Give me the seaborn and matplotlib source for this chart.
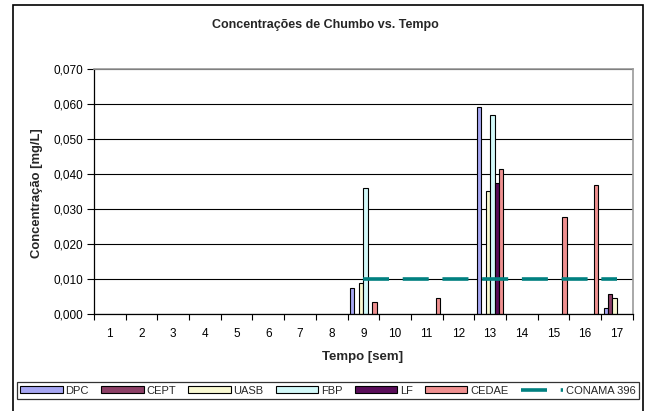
import numpy as np
import pandas as pd
import matplotlib
matplotlib.use("Agg")
import matplotlib.pyplot as plt
import matplotlib.patches as mpatches
from matplotlib.ticker import FuncFormatter, MultipleLocator
import seaborn as sns

# semanas e series
weeks = [str(i) for i in range(1, 18)]
series = ["DPC", "CEPT", "UASB", "FBP", "LF", "CEDAE"]
colors = ["#9999FF", "#993366", "#FFFFCC", "#CCFFFF", "#660066", "#FF8080"]

nan = np.nan
dpc   = [nan] * 8 + [0.0073, nan, nan, nan, 0.0592, nan, nan, nan, 0.0016]
cept  = [nan] * 8 + [nan,    nan, nan, nan, nan,    nan, nan, nan, 0.0058]
uasb  = [nan] * 8 + [0.0088, nan, nan, nan, 0.0352, nan, nan, nan, 0.0045]
fbp   = [nan] * 8 + [0.0360, nan, nan, nan, 0.0569, nan, nan, nan, nan]
lf    = [nan] * 8 + [nan,    nan, nan, nan, 0.0374, nan, nan, nan, nan]
cedae = [nan] * 8 + [0.0033, nan, 0.0046, nan, 0.0413, nan, 0.0278, 0.0369, nan]
conama = [nan] * 8 + [0.010] * 9

sns.set_theme(style="white")
plt.rcParams["font.family"] = ["Liberation Sans", "DejaVu Sans"]

rows = []
for name, vals in zip(series, [dpc, cept, uasb, fbp, lf, cedae]):
    for w, v in zip(weeks, vals):
        rows.append({"semana": w, "serie": name, "valor": v})
df = pd.DataFrame(rows)

fig = plt.figure(figsize=(6.46, 4.11), dpi=100)
ax = fig.add_axes([94 / 646, 1 - 314 / 411, (632.7 - 94) / 646, (314 - 69) / 411])

sns.barplot(data=df, x="semana", y="valor", hue="serie", order=weeks,
            hue_order=series, palette=colors, width=0.84, gap=0,
            edgecolor="black", linewidth=0.8, ax=ax)

conama_x = np.arange(len(weeks))
sns.lineplot(x=conama_x, y=conama, color="#008080", linewidth=2.6,
             linestyle=(0, (7.2, 3.8)), dash_capstyle="butt",
             label="CONAMA 396", ax=ax)

ax.set_xlim(-0.5, len(weeks) - 0.5)
ax.set_ylim(0, 0.070)
ax.yaxis.set_major_locator(MultipleLocator(0.01))
ax.yaxis.set_major_formatter(FuncFormatter(lambda v, p: f"{v:.3f}".replace(".", ",")))
ax.grid(axis="y", color="black", linewidth=0.8)
ax.set_axisbelow(True)
ax.set_xlabel("")
ax.set_ylabel("")

ax.set_xticks(np.arange(len(weeks)))
ax.set_xticklabels(weeks)
ax.set_xticks(np.arange(len(weeks) + 1) - 0.5, minor=True)
ax.tick_params(axis="x", which="major", length=0, pad=10, labelsize=8.5, colors="black")
ax.tick_params(axis="x", which="minor", length=4, width=0.8, direction="out", bottom=True, color="black")
ax.tick_params(axis="y", length=5, width=0.8, direction="out", left=True, labelsize=8.5, pad=3, colors="black")

for s in ["left", "bottom"]:
    ax.spines[s].set_color("black")
    ax.spines[s].set_linewidth(0.9)
for s in ["top", "right"]:
    ax.spines[s].set_color("#9a9a9a")
    ax.spines[s].set_linewidth(1.2)

fig.text(0.503, 0.939, "Concentrações de Chumbo vs. Tempo", ha="center", va="center",
         fontsize=9, fontweight="bold")
fig.text(363 / 646, 1 - 357 / 411, "Tempo [sem]", ha="center", va="center",
         fontsize=9.5, fontweight="bold")
fig.text(37 / 646, 1 - 193 / 411, "Concentração [mg/L]", ha="center", va="center",
         rotation=90, fontsize=9.4, fontweight="bold")

handles, labels = ax.get_legend_handles_labels()
ax.get_legend().remove()
leg = fig.legend(handles, labels, loc="center", bbox_to_anchor=(328 / 646, 1 - 390.5 / 411),
                 ncol=7, fontsize=8, frameon=True, fancybox=False, handlelength=3.8,
                 handleheight=0.6, handletextpad=0.25, columnspacing=1.12,
                 borderpad=0.3, borderaxespad=0)
leg.get_frame().set_edgecolor("black")
leg.get_frame().set_linewidth(0.9)

fig.patches.append(mpatches.Rectangle((13 / 646, -0.1), (643 - 13) / 646, 1 - 5 / 411 + 0.1,
                                      transform=fig.transFigure, fill=False,
                                      edgecolor="black", linewidth=1.2))

fig.savefig("out.png", dpi=100)
